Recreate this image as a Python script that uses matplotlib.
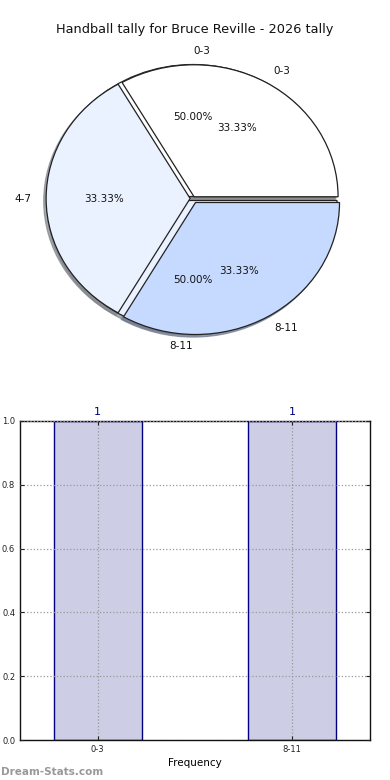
import matplotlib
matplotlib.use("Agg")
import matplotlib.pyplot as plt

title = "Handball tally for Bruce Reville - 2026 tally"
pie3_labels = ["0-3", "4-7", "8-11"]
pie3_values = [1, 1, 1]
pie2_labels = ["0-3", "8-11"]
pie2_values = [1, 1]
bar_labels = ["0-3", "8-11"]
bar_values = [1, 1]

c_white = "#ffffff"
c_light = "#ebf2ff"
c_blue = "#c6d9ff"

W, H = 390.0, 780.0
fig = plt.figure(figsize=(3.9, 7.8), dpi=100)

# Pie axes: centre ~ (193, 198.5) px, radii ~ (145, 132) px
rx, ry = 144.0, 132.0
cx, cy = 193.0, 198.5
ax1 = fig.add_axes([(cx - 1.25 * rx) / W, 1 - (cy + 1.25 * ry) / H,
                    2.5 * rx / W, 2.5 * ry / H])
wp = dict(edgecolor="#222222", linewidth=0.9)
tp = dict(fontsize=7.5, color="#111111")
sh = dict(ox=-0.012, oy=-0.014, shade=0.45, alpha=0.7)
w2, t2, a2 = ax1.pie(pie2_values, labels=pie2_labels, colors=[c_white, c_light],
                     explode=(0.015, 0.015), autopct="%.2f%%", shadow=sh,
                     startangle=0, counterclock=True, wedgeprops=wp,
                     textprops=tp)
t2[0].set_ha("left")
t2[1].set_ha("right")
ax1.pie(pie3_values, labels=pie3_labels, colors=[c_white, c_light, c_blue],
        explode=(0.015, 0.02, 0.035), autopct="%.2f%%", shadow=sh,
        startangle=0, counterclock=True, wedgeprops=wp, textprops=tp)
ax1.set_aspect("auto")
ax1.set_xlim(-1.25, 1.25)
ax1.set_ylim(-1.25, 1.25)
fig.text(195 / W, 1 - 30 / H, title, fontsize=9.3, color="#111111",
         ha="center", va="center")

# Bar axes
ax2 = fig.add_axes([20 / W, 40 / H, 350 / W, 319 / H])
x = list(range(len(bar_labels)))
ax2.bar(x, bar_values, width=0.45, color="#cdcee5",
        edgecolor="#000080", linewidth=1.0, zorder=2)
for xi, v in zip(x, bar_values):
    ax2.text(xi, v + 0.012, str(v), ha="center", va="bottom",
             fontsize=8, color="#000080")
ax2.set_xlim(-0.4, 1.4)
ax2.set_ylim(0, 1.0)
ax2.set_xticks(x)
ax2.set_xticklabels(bar_labels)
ax2.set_yticks([0.0, 0.2, 0.4, 0.6, 0.8, 1.0])
ax2.set_yticklabels(["0.0", "0.2", "0.4", "0.6", "0.8", "1.0"])
ax2.tick_params(axis="both", labelsize=6, colors="#222222", length=3,
                direction="in", top=True, right=True)
ax2.grid(True, linestyle=":", color="#999999", linewidth=0.9, zorder=3)
ax2.set_axisbelow(False)
ax2.set_xlabel("Frequency", fontsize=7.5, labelpad=3)
for s in ax2.spines.values():
    s.set_linewidth(1.0)
    s.set_color("#111111")

fig.text(0.003, 0.004, "Dream-Stats.com", fontsize=7.5, color="#999999",
         fontweight="bold", ha="left", va="bottom")

fig.savefig("out.png", dpi=100)
